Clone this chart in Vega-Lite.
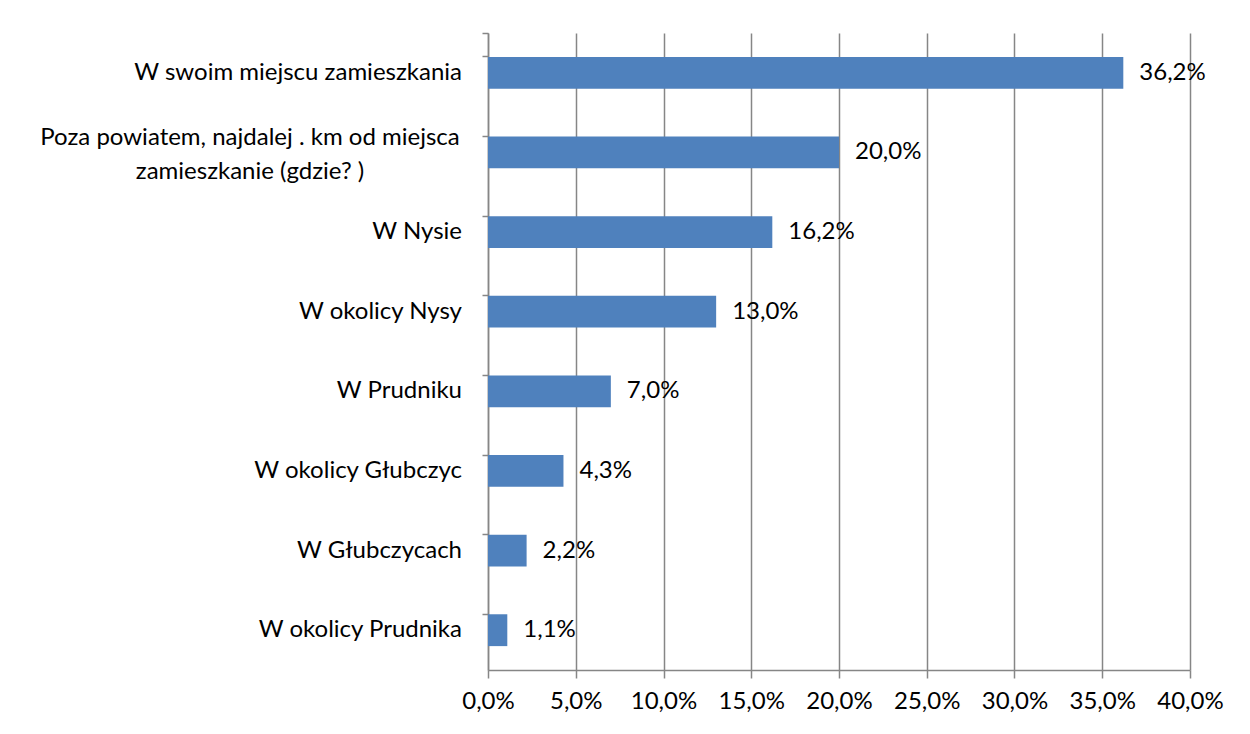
{
  "$schema": "https://vega.github.io/schema/vega-lite/v6.json",
  "autosize": {"type": "none"},
  "width": 702,
  "height": 637,
  "padding": {"left": 488, "top": 33, "right": 60, "bottom": 64},
  "background": "white",
  "config": {
    "locale": {"number": {"decimal": ",", "thousands": " ", "grouping": [3], "currency": ["", " zł"]}},
    "view": {"stroke": null},
    "font": "Lato"
  },
  "data": {
    "values": [
      {"label": "W swoim miejscu zamieszkania", "value": 0.362},
      {"label": "Poza powiatem, najdalej . km od miejsca|zamieszkanie (gdzie? )", "value": 0.200},
      {"label": "W Nysie", "value": 0.162},
      {"label": "W okolicy Nysy", "value": 0.130},
      {"label": "W Prudniku", "value": 0.070},
      {"label": "W okolicy Głubczyc", "value": 0.043},
      {"label": "W Głubczycach", "value": 0.022},
      {"label": "W okolicy Prudnika", "value": 0.011}
    ]
  },
  "encoding": {
    "y": {
      "field": "label", "type": "nominal", "sort": null,
      "scale": {"paddingInner": 0.6, "paddingOuter": 0.3},
      "axis": {
        "title": null,
        "labels": false,
        "bandPosition": 0,
        "tickExtra": true,
        "tickSize": 6, "tickColor": "#868686", "tickWidth": 1.5,
        "domainColor": "#868686", "domainWidth": 1.5,
        "grid": false
      }
    }
  },
  "layer": [
    {
      "mark": {"type": "bar", "color": "#4F81BD"},
      "encoding": {
        "x": {
          "field": "value", "type": "quantitative",
          "scale": {"domain": [0, 0.4], "nice": false},
          "axis": {
            "title": null, "format": ".1%",
            "values": [0, 0.05, 0.1, 0.15, 0.2, 0.25, 0.3, 0.35, 0.4],
            "labelFont": "Lato", "labelFontSize": 24, "labelColor": "#000000",
            "labelPadding": 11,
            "labelOverlap": false,
            "labelFlush": false,
            "labelAlign": "center",
            "tickSize": 8, "tickColor": "#868686", "tickWidth": 1.5,
            "domainColor": "#868686", "domainWidth": 1.5,
            "grid": true, "gridColor": "#868686", "gridWidth": 1.5
          }
        }
      }
    },
    {
      "mark": {"type": "text", "align": "left", "baseline": "middle", "dx": 16, "fontSize": 24, "font": "Lato", "color": "#000000"},
      "encoding": {
        "x": {"field": "value", "type": "quantitative"},
        "text": {"field": "value", "type": "quantitative", "format": ".1%"}
      }
    },
    {
      "transform": [{"filter": "indexof(datum.label, '|') < 0"}],
      "mark": {"type": "text", "align": "right", "baseline": "middle", "dx": -26, "fontSize": 24, "font": "Lato", "color": "#000000"},
      "encoding": {
        "x": {"datum": 0, "type": "quantitative"},
        "text": {"field": "label", "type": "nominal"}
      }
    },
    {
      "transform": [{"filter": "indexof(datum.label, '|') >= 0"}],
      "mark": {"type": "text", "align": "center", "baseline": "middle", "dx": -238, "dy": -14, "fontSize": 24, "font": "Lato", "color": "#000000", "lineBreak": "|", "lineHeight": 34},
      "encoding": {
        "x": {"datum": 0, "type": "quantitative"},
        "text": {"field": "label", "type": "nominal"}
      }
    }
  ]
}
